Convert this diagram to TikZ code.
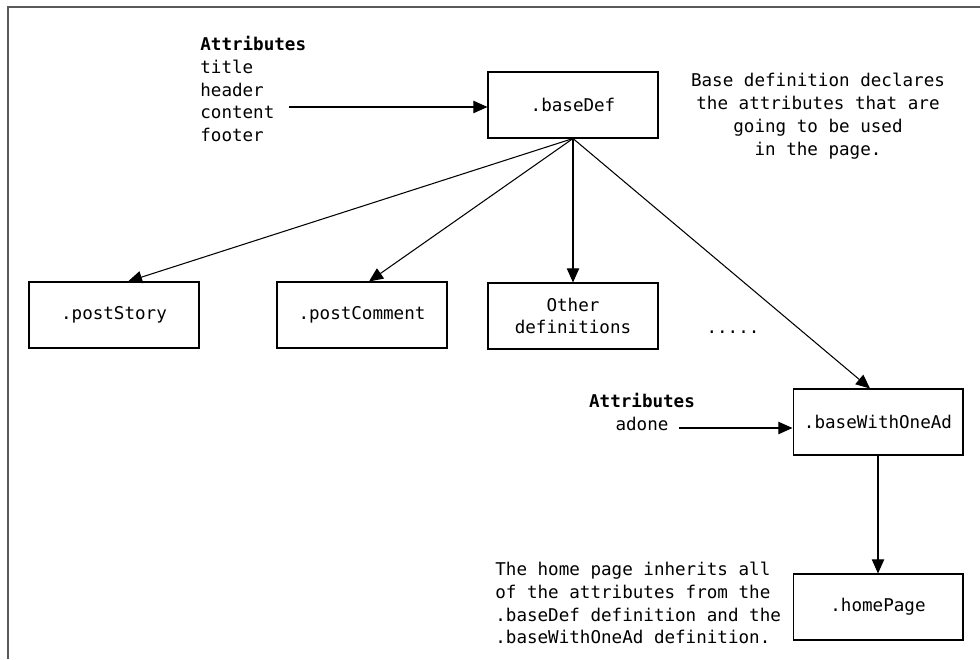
\documentclass[tikz,border=0pt]{standalone}
\usepackage{fontspec}
\setmonofont{DejaVu Sans Mono}
\usetikzlibrary{arrows.meta}
\newcommand{\diagfont}{\fontsize{10pt}{13pt}\selectfont\ttfamily}
\tikzset{
    def-box/.style = {draw, line width=0.6pt, rectangle, minimum width=3.4cm, minimum height=1.32cm, align=center, font=\diagfont},
    note-text/.style = {inner sep=0pt, font=\diagfont},
    def-arrow/.style = {-{Triangle[length=8pt,width=7pt]}, line width=0.6pt},
    frame-line/.style = {draw=black!65, line width=1.2pt},
}
\begin{document}
\begin{tikzpicture}[x=0.02cm, y=-0.02cm]
\useasboundingbox (0,0) rectangle (980,659);
\draw[frame-line] (980,7) -- (8,7) -- (8,659);

\node[def-box] (base-def) at (573,105) {.baseDef};
\node[note-text, anchor=west, align=left] (base-attrs) at (200,89) {\textbf{Attributes}\\title\\header\\content\\footer};
\coordinate (base-attrs-out) at (289,107);
\draw[def-arrow] (base-attrs-out) -- (base-attrs-out -| base-def.west);
\node[note-text, align=center] (base-note) at (818,116) {Base definition declares\\the attributes that are\\going to be used\\in the page.};

\node[def-box] (post-story) at (114,315) {.postStory};
\node[def-box] (post-comment) at (362,315) {.postComment};
\node[def-box] (other-defs) at (573,316) {Other\\definitions};
\node[note-text] (more-defs) at (733,332) {.....};
\node[def-box] (base-one-ad) at (878,422) {.baseWithOneAd};
\node[def-box] (home-page) at (878,607) {.homePage};

\draw[def-arrow] (base-def.south) -- ([xshift=0.28cm]post-story.north);
\draw[def-arrow] (base-def.south) -- ([xshift=0.14cm]post-comment.north);
\draw[def-arrow] (base-def.south) -- (other-defs.north);
\draw[def-arrow] (base-def.south) -- ([xshift=-0.16cm]base-one-ad.north);

\node[note-text, align=center] (ad-attrs) at (642,412) {\textbf{Attributes}\\adone};
\coordinate (ad-attrs-out) at (679,428);
\draw[def-arrow] (ad-attrs-out) -- (ad-attrs-out -| base-one-ad.west);
\draw[def-arrow] (base-one-ad.south) -- (home-page.north);

\node[note-text, anchor=west, align=left] (home-note) at (495,603) {The home page inherits all\\of the attributes from the\\.baseDef definition and the\\.baseWithOneAd definition.};
\end{tikzpicture}
\end{document}
